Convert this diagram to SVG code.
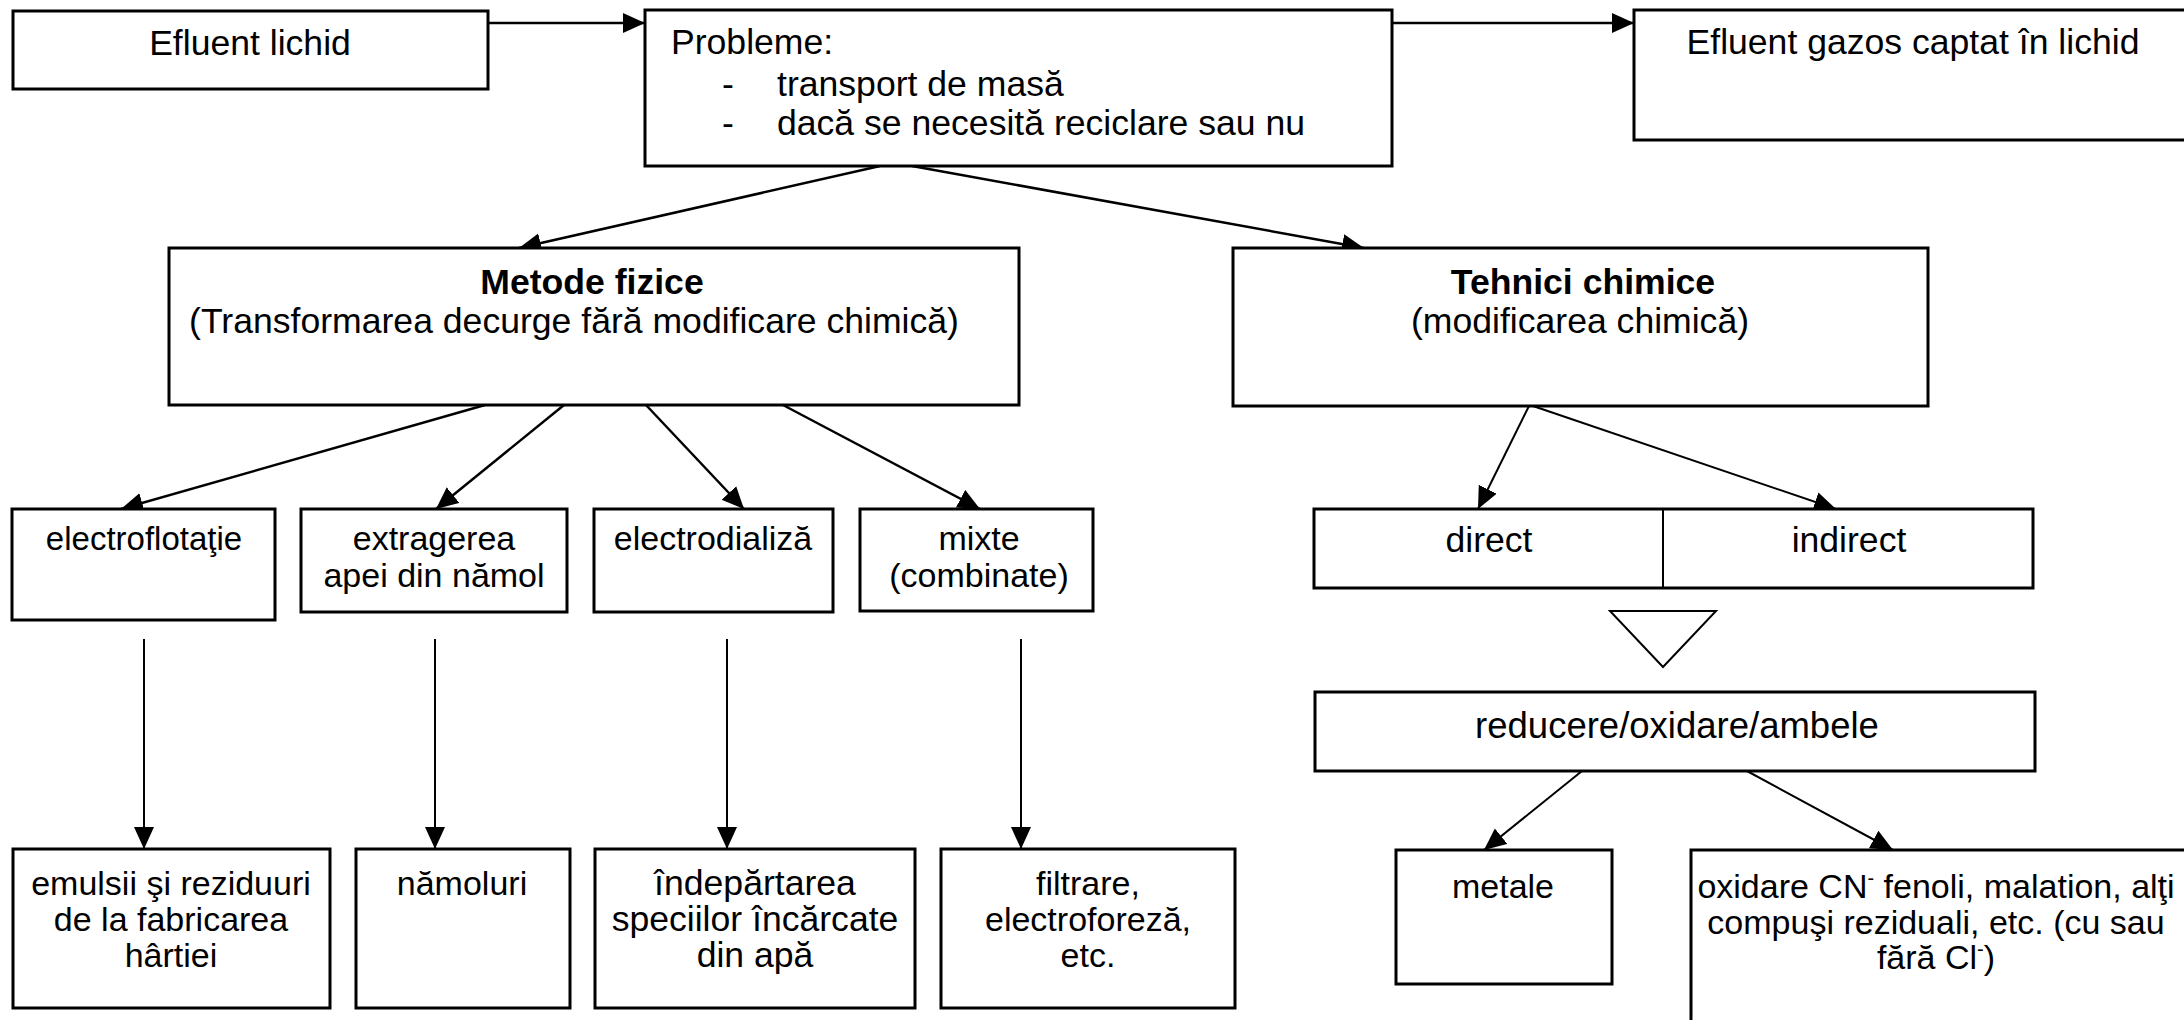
<svg xmlns="http://www.w3.org/2000/svg" width="2184" height="1020" viewBox="0 0 2184 1020">
<defs>
<marker id="ah" markerUnits="userSpaceOnUse" markerWidth="24" markerHeight="22" refX="22" refY="10" orient="auto" viewBox="0 0 24 22">
<path d="M0,0 L22,10 L0,20 z" fill="#000"/>
</marker>
</defs>
<style>
.box{fill:#fff;stroke:#000;stroke-width:3}
.t{font-family:"Liberation Sans",Arial,sans-serif;font-size:35.6px;fill:#000}
.s{font-size:34px}
.m{font-size:34px}
.c{text-anchor:middle}
.b{font-weight:bold}
.ln{stroke:#000;stroke-width:2.5;fill:none;marker-end:url(#ah)}
.thin{stroke-width:2}
</style>
<rect width="2184" height="1020" fill="#fff"/>

<g id="connectors">
<line class="ln" x1="488" y1="23" x2="645" y2="23"/>
<line class="ln" x1="1392" y1="23" x2="1634" y2="23"/>
<line class="ln" x1="880" y1="166" x2="519" y2="248"/>
<line class="ln" x1="912" y1="166" x2="1364" y2="248"/>
<line class="ln" x1="485" y1="405" x2="121" y2="509"/>
<line class="ln" x1="564" y1="405" x2="436" y2="509"/>
<line class="ln" x1="646" y1="405" x2="744" y2="509"/>
<line class="ln" x1="783" y1="405" x2="980" y2="509"/>
<line class="ln thin" x1="144" y1="639" x2="144" y2="849"/>
<line class="ln thin" x1="435" y1="639" x2="435" y2="849"/>
<line class="ln thin" x1="727" y1="639" x2="727" y2="849"/>
<line class="ln thin" x1="1021" y1="639" x2="1021" y2="849"/>
<line class="ln thin" x1="1529" y1="406" x2="1478" y2="509"/>
<line class="ln thin" x1="1533" y1="406" x2="1836" y2="509"/>
<line class="ln thin" x1="1582" y1="771" x2="1484" y2="850"/>
<line class="ln thin" x1="1747" y1="771" x2="1893" y2="850"/>
</g>

<g id="efluent-lichid">
<rect class="box" x="13" y="11" width="475" height="78"/>
<text class="t c" x="250" y="55">Efluent lichid</text>
</g>

<g id="probleme">
<rect class="box" x="645" y="10" width="747" height="156"/>
<text class="t" x="671" y="54">Probleme:</text>
<text class="t" x="722" y="96">-</text>
<text class="t" x="777" y="96">transport de masă</text>
<text class="t" x="722" y="135">-</text>
<text class="t" x="777" y="135">dacă se necesită reciclare sau nu</text>
</g>

<g id="efluent-gazos">
<rect class="box" x="1634" y="10" width="580" height="130"/>
<text class="t c" x="1913" y="54">Efluent gazos captat în lichid</text>
</g>

<g id="metode-fizice">
<rect class="box" x="169" y="248" width="850" height="157"/>
<text class="t c b" x="592" y="294">Metode fizice</text>
<text class="t c" x="574" y="333">(Transformarea decurge fără modificare chimică)</text>
</g>

<g id="tehnici-chimice">
<rect class="box" x="1233" y="248" width="695" height="158"/>
<text class="t c b" x="1583" y="294">Tehnici chimice</text>
<text class="t c" x="1580" y="333">(modificarea chimică)</text>
</g>

<g id="electroflotatie">
<rect class="box" x="12" y="509" width="263" height="111"/>
<text class="t c" style="font-size:33px" x="144" y="550">electroflotaţie</text>
</g>

<g id="extragerea">
<rect class="box" x="301" y="509" width="266" height="103"/>
<text class="t s c" x="434" y="550">extragerea</text>
<text class="t s c" x="434" y="587">apei din nămol</text>
</g>

<g id="electrodializa">
<rect class="box" x="594" y="509" width="239" height="103"/>
<text class="t s c" x="713" y="550">electrodializă</text>
</g>

<g id="mixte">
<rect class="box" x="860" y="509" width="233" height="102"/>
<text class="t s c" x="979" y="550">mixte</text>
<text class="t s c" x="979" y="587">(combinate)</text>
</g>

<g id="emulsii">
<rect class="box" x="13" y="849" width="317" height="159"/>
<text class="t s c" x="171" y="895">emulsii şi reziduuri</text>
<text class="t s c" x="171" y="931">de la fabricarea</text>
<text class="t s c" x="171" y="967">hârtiei</text>
</g>

<g id="namoluri">
<rect class="box" x="356" y="849" width="214" height="159"/>
<text class="t s c" x="462" y="895">nămoluri</text>
</g>

<g id="indepartarea">
<rect class="box" x="595" y="849" width="320" height="159"/>
<text class="t c" x="755" y="895">îndepărtarea</text>
<text class="t c" x="755" y="931">speciilor încărcate</text>
<text class="t c" x="755" y="967">din apă</text>
</g>

<g id="filtrare">
<rect class="box" x="941" y="849" width="294" height="159"/>
<text class="t s c" x="1088" y="895">filtrare,</text>
<text class="t s c" x="1088" y="931">electroforeză,</text>
<text class="t s c" x="1088" y="967">etc.</text>
</g>

<g id="direct-indirect">
<rect class="box" x="1314" y="509" width="719" height="79"/>
<line x1="1663" y1="509" x2="1663" y2="588" stroke="#000" stroke-width="2"/>
<text class="t c" x="1489" y="552">direct</text>
<text class="t c" x="1849" y="552">indirect</text>
</g>

<g id="triunghi">
<polygon points="1610,611 1716,611 1663,667" fill="#fff" stroke="#000" stroke-width="2"/>
</g>

<g id="reducere">
<rect class="box" x="1315" y="692" width="720" height="79"/>
<text class="t c" style="font-size:36.5px" x="1677" y="738">reducere/oxidare/ambele</text>
</g>

<g id="metale">
<rect class="box" x="1396" y="850" width="216" height="134"/>
<text class="t m c" x="1503" y="898">metale</text>
</g>

<g id="oxidare">
<rect class="box" x="1691" y="850" width="520" height="200"/>
<text class="t m c" x="1936" y="898">oxidare CN<tspan font-size="20" dy="-13">-</tspan><tspan dy="13"> fenoli, malation, alţi</tspan></text>
<text class="t m c" x="1936" y="934">compuşi reziduali, etc. (cu sau</text>
<text class="t m c" x="1936" y="969">fără Cl<tspan font-size="20" dy="-13">-</tspan><tspan dy="13">)</tspan></text>
</g>
</svg>
